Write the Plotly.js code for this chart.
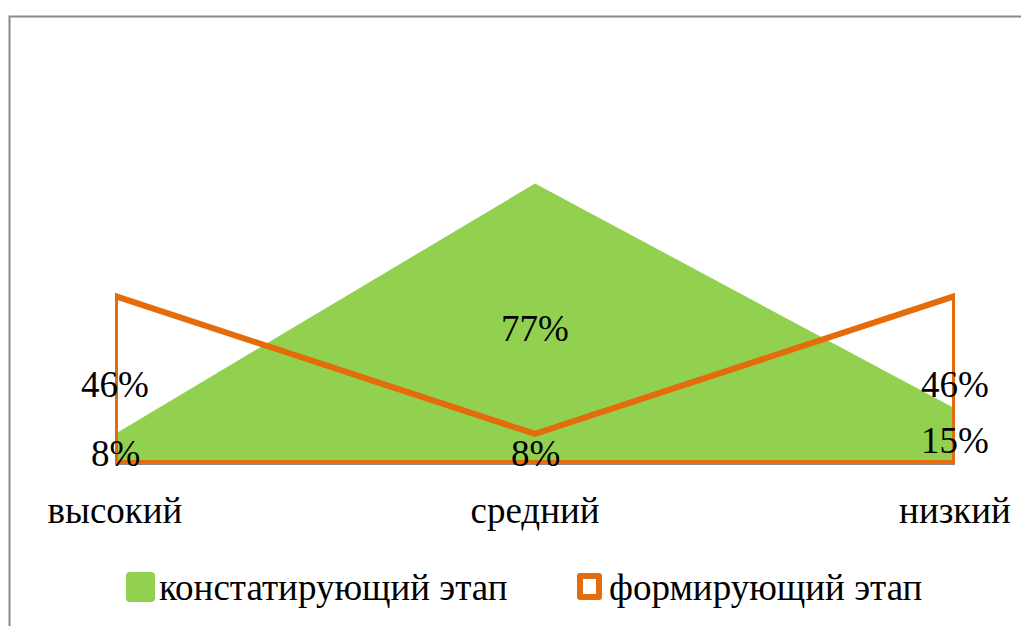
<!DOCTYPE html>
<html>
<head>
<meta charset="utf-8">
<script src="https://cdn.plot.ly/plotly-3.0.1.min.js"></script>
</head>
<body style="margin:0">
<div id="chart"></div>
<script>
// ---- data ----
const categories = ['высокий', 'средний', 'низкий'];
const seriesNames = ['констатирующий этап', 'формирующий этап'];
const constatValues = [8, 77, 15];   // %
const formValues = [46, 8, 46];      // %

// ---- style ----
const GREEN = '#92D050';
const ORANGE = '#E46C0A';
const FONT = 'Liberation Serif';
const FS = 37;

const W = 1021, Hh = 626;
const M = {l: 115, r: 66, t: 100, b: 163};
const PW = W - M.l - M.r, PH = Hh - M.t - M.b;
const px = x => (x - M.l) / PW;
const py = y => (Hh - M.b - y) / PH;

const tGreen = {
  x: categories, y: constatValues, type: 'scatter', mode: 'lines',
  fill: 'tozeroy', fillcolor: GREEN, line: {width: 0, color: GREEN},
  showlegend: false, hoverinfo: 'skip'
};
const last = categories.length - 1;
const tOrange = {
  x: [categories[0]].concat(categories, [categories[last], categories[0]]),
  y: [0].concat(formValues, [0, 0]),
  type: 'scatter', mode: 'lines',
  line: {width: 6, color: ORANGE},
  showlegend: false, hoverinfo: 'skip'
};

const txtFont = {family: FONT, size: FS, color: '#000000'};
const annotations = [];
constatValues.forEach((v, i) => annotations.push({
  x: categories[i], y: v / 2, xref: 'x', yref: 'y', text: v + '%', yshift: -5,
  showarrow: false, font: txtFont
}));
formValues.forEach((v, i) => annotations.push({
  x: categories[i], y: v / 2, xref: 'x', yref: 'y', text: v + '%', yshift: -5,
  showarrow: false, font: txtFont
}));
annotations.push({x: px(157), y: py(587), xref: 'paper', yref: 'paper', xanchor: 'left', yanchor: 'middle',
  text: seriesNames[0], showarrow: false, font: txtFont});
annotations.push({x: px(607), y: py(587), xref: 'paper', yref: 'paper', xanchor: 'left', yanchor: 'middle',
  text: seriesNames[1], showarrow: false, font: txtFont});

function roundRect(x0, y0, x1, y1, r) {
  const X0 = px(x0), X1 = px(x1), Y0 = py(y0), Y1 = py(y1);
  const rx = r / PW, ry = r / PH;
  return `M${X0 + rx},${Y0} L${X1 - rx},${Y0} Q${X1},${Y0} ${X1},${Y0 - ry} L${X1},${Y1 + ry} Q${X1},${Y1} ${X1 - rx},${Y1} L${X0 + rx},${Y1} Q${X0},${Y1} ${X0},${Y1 + ry} L${X0},${Y0 - ry} Q${X0},${Y0} ${X0 + rx},${Y0} Z`;
}

const shapes = [
  {type: 'rect', xref: 'paper', yref: 'paper', x0: px(9.5), y0: py(16.5), x1: px(1040), y1: py(660),
   line: {color: '#8a8a8a', width: 2}, fillcolor: 'rgba(0,0,0,0)', layer: 'below'},
  {type: 'path', xref: 'paper', yref: 'paper', path: roundRect(126, 572, 155, 602, 4),
   fillcolor: GREEN, line: {width: 0}},
  {type: 'path', xref: 'paper', yref: 'paper', path: roundRect(577, 573, 602, 600, 3),
   fillcolor: ORANGE, line: {width: 0}},
  {type: 'rect', xref: 'paper', yref: 'paper', x0: px(583), y0: py(579), x1: px(596), y1: py(594),
   fillcolor: '#ffffff', line: {width: 0}}
];

const layout = {
  width: W, height: Hh,
  margin: M,
  paper_bgcolor: '#ffffff', plot_bgcolor: 'rgba(0,0,0,0)',
  showlegend: false,
  xaxis: {
    type: 'category', range: [0, last], autorange: false,
    showgrid: false, zeroline: false, showline: true, linecolor: '#8a8a8a', linewidth: 2,
    layer: 'above traces', ticks: '', ticklabelstandoff: 14,
    tickfont: txtFont
  },
  yaxis: {
    range: [0, 100], autorange: false, visible: false, showgrid: false, zeroline: false
  },
  annotations: annotations,
  shapes: shapes
};

Plotly.newPlot('chart', [tGreen, tOrange], layout, {displayModeBar: false});
</script>
</body>
</html>
